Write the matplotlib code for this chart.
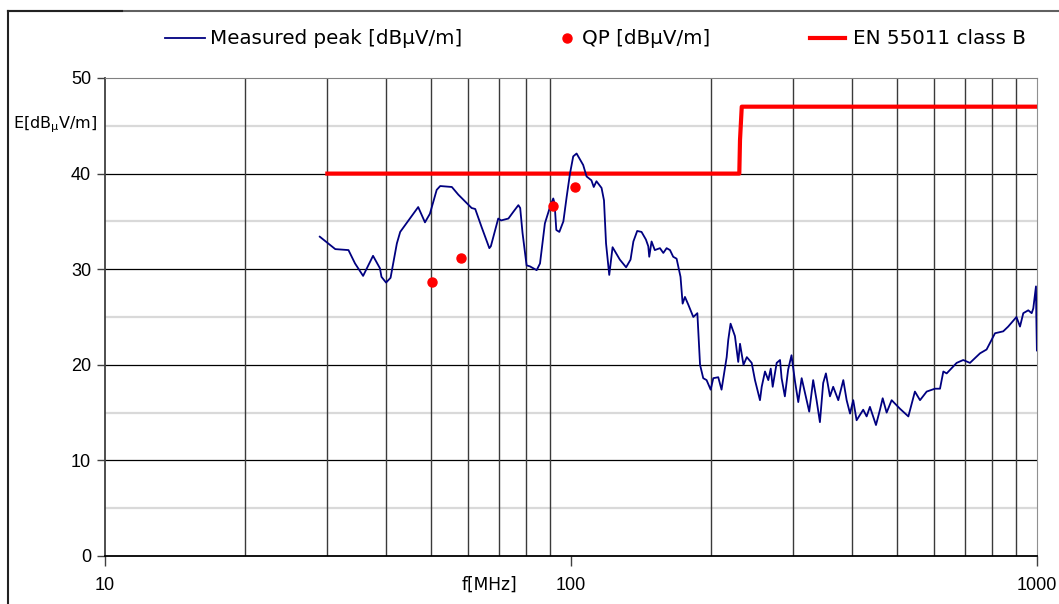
import numpy as np
import matplotlib
matplotlib.use("Agg")
import matplotlib.pyplot as plt
from matplotlib.lines import Line2D
from matplotlib.ticker import FixedLocator, NullFormatter

plt.rcParams['font.family'] = ['Liberation Sans', 'DejaVu Sans']
plt.rcParams['mathtext.fontset'] = 'dejavusans'

# measured peak trace (MHz, dBuV/m)
peak_freq = [28.9, 31.2, 33.3, 34.4, 35.8, 37.6, 38.9, 39.2, 40.1, 41.0,
             42.3, 43.0, 47.0, 48.6, 49.8, 51.5, 52.4, 55.5, 57.3, 61.2,
             62.3, 64.3, 66.8, 67.3, 69.8, 70.8, 73.4, 75.2, 77.1, 77.8,
             78.7, 80.3, 81.6, 84.4, 85.8, 87.9, 90.4, 91.6, 92.2, 93.0,
             94.4, 96.3, 97.9, 99.5, 101.1, 102.8, 106.2, 108.0, 110.6, 111.9,
             113.4, 116.3, 117.7, 118.9, 120.8, 122.8, 127.3, 131.3, 134.2, 136.1,
             138.7, 141.7, 144.8, 146.5, 147.2, 148.9, 151.3, 155.2, 157.8, 160.4,
             163.1, 165.7, 168.5, 171.8, 173.6, 175.6, 178.5, 183.0, 186.7, 189.2,
             192.2, 195.4, 199.4, 202.0, 207.0, 210.4, 215.8, 217.5, 220.0, 224.8,
             228.5, 230.5, 234.5, 238.4, 244.2, 248.2, 254.4, 256.6, 260.8, 265.1,
             268.3, 270.9, 276.3, 280.9, 283.1, 287.7, 292.4, 297.3, 302.4, 307.4,
             312.6, 320.3, 324.5, 330.9, 336.5, 342.1, 347.7, 352.4, 359.5, 365.3,
             374.6, 384.0, 390.4, 397.0, 403.3, 410.1, 423.7, 430.9, 438.0, 451.3,
             460.3, 466.5, 475.7, 487.6, 508.2, 529.6, 547.0, 561.0, 579.8, 603.9,
             619.2, 629.5, 640.0, 672.3, 694.5, 718.0, 754.6, 779.5, 812.6, 846.3,
             867.4, 903.5, 919.4, 934.5, 957.8, 974.1, 981.8, 994.9, 996.5, 999.5]
peak_level = [33.4, 32.1, 32.0, 30.6, 29.3, 31.4, 30.1, 29.2, 28.6, 29.1,
              32.7, 33.9, 36.5, 34.9, 35.8, 38.3, 38.7, 38.6, 37.8, 36.4,
              36.3, 34.4, 32.2, 32.4, 35.3, 35.1, 35.3, 36.0, 36.7, 36.4,
              33.8, 30.4, 30.3, 29.9, 30.6, 34.8, 36.7, 37.4, 36.9, 34.1,
              33.9, 35.0, 37.6, 40.0, 41.8, 42.1, 40.9, 39.7, 39.3, 38.6,
              39.2, 38.5, 37.2, 32.7, 29.4, 32.3, 31.0, 30.2, 31.0, 32.9,
              34.0, 33.9, 33.1, 32.4, 31.3, 32.9, 32.0, 32.2, 31.7, 32.2,
              32.0, 31.3, 31.1, 29.2, 26.4, 27.1, 26.3, 25.0, 25.4, 20.0,
              18.6, 18.4, 17.4, 18.6, 18.7, 17.4, 20.8, 22.6, 24.3, 23.0,
              20.3, 22.2, 20.0, 20.8, 20.2, 18.4, 16.3, 17.7, 19.3, 18.4,
              19.6, 17.7, 20.2, 20.5, 18.6, 16.7, 19.5, 21.0, 18.3, 16.1,
              18.6, 16.3, 15.1, 18.4, 16.3, 14.0, 18.1, 19.1, 16.7, 17.7,
              16.3, 18.4, 16.3, 14.9, 16.3, 14.2, 15.3, 14.6, 15.6, 13.7,
              15.3, 16.5, 15.0, 16.3, 15.4, 14.6, 17.2, 16.3, 17.2, 17.5,
              17.5, 19.3, 19.1, 20.2, 20.5, 20.2, 21.2, 21.6, 23.3, 23.5,
              24.0, 25.0, 24.0, 25.4, 25.7, 25.4, 25.9, 28.2, 25.2, 21.5]

# quasi-peak readings
qp_freq = [50.4, 58.1, 91.3, 102.0]
qp_level = [28.7, 31.2, 36.6, 38.6]

# EN 55011 class B limit
limit_freq = [30, 229.7, 230.5, 232.5, 1000]
limit_level = [40, 40, 43.5, 47, 47]

W, H = 1059, 604
fig = plt.figure(figsize=(W / 100, H / 100), dpi=100)
ax = fig.add_axes([105 / W, 1 - 556 / H, (1037 - 105) / W, (556 - 78) / H])

ax.set_xscale('log')
ax.set_xlim(10, 1000)
ax.set_ylim(0, 50)

# grid
for y in [5, 15, 25, 35, 45]:
    ax.axhline(y, color='#d9d9d9', lw=1.6, zorder=0)
for y in [10, 20, 30, 40]:
    ax.axhline(y, color='black', lw=0.9, zorder=1)
for x in list(range(20, 100, 10)) + list(range(200, 1000, 100)):
    ax.axvline(x, color='#3a3a3a', lw=1.0, zorder=1)

ax.plot(limit_freq, limit_level, color='#ff0000', lw=3.0, zorder=3)
ax.plot(peak_freq, peak_level, color='#000080', lw=1.3, zorder=4)
ax.plot(qp_freq, qp_level, 'o', color='#ff0000', ms=6.5, mec='#ff0000', zorder=5)

# axes styling
ax.spines['top'].set_color('#808080')
ax.spines['right'].set_color('#909090')
ax.spines['left'].set_color('#404040')
ax.spines['left'].set_linewidth(1.3)
ax.spines['bottom'].set_color('black')
ax.spines['bottom'].set_linewidth(1.3)

ax.yaxis.set_major_locator(FixedLocator([0, 10, 20, 30, 40, 50]))
ax.xaxis.set_major_locator(FixedLocator([10, 100, 1000]))
ax.xaxis.set_minor_locator(FixedLocator([]))
ax.xaxis.set_minor_formatter(NullFormatter())
ax.set_xticklabels(['10', '100', '1000'])
ax.tick_params(axis='y', direction='out', length=6, width=1, color='#404040',
               labelsize=13, pad=4)
ax.tick_params(axis='x', direction='out', length=7, width=1, color='#404040',
               labelsize=13, pad=8)
for lab in ax.get_xticklabels():
    lab.set_clip_on(False)

fig.text(97 / W, 1 - 125 / H, 'E[dB$_{\\mathregular{μ}}$V/m]', ha='right', va='center',
         fontsize=11.5, family='DejaVu Sans')
fig.text(490 / W, 1 - 585 / H, 'f[MHz]', ha='center', va='center', fontsize=12.3,
         family='DejaVu Sans')

# legend drawn by hand across the top
ly = 1 - 38 / H
lfont = dict(ha='left', va='center', fontsize=14.3, family='DejaVu Sans')
fig.add_artist(Line2D([165 / W, 205 / W], [ly, ly], color='#000080', lw=1.3))
fig.text(210 / W, ly, 'Measured peak [dBμV/m]', **lfont)
fig.add_artist(Line2D([567 / W], [ly], marker='o', color='#ff0000', ms=6.5, lw=0))
fig.text(582 / W, ly, 'QP [dBμV/m]', **lfont)
fig.add_artist(Line2D([810 / W, 845 / W], [ly, ly], color='#ff0000', lw=3.0))
fig.text(853 / W, ly, 'EN 55011 class B', **lfont)

# chart border (only top and left are inside the crop)
fig.add_artist(Line2D([8 / W, 8 / W], [0, 1 - 11 / H], color='#222222', lw=1.5))
fig.add_artist(Line2D([8 / W, 1], [1 - 11 / H, 1 - 11 / H], color='#606060', lw=1.5))
fig.add_artist(Line2D([8 / W, 122 / W], [1 - 11 / H, 1 - 11 / H], color='#222222', lw=1.5))

fig.savefig('out.png', dpi=100)
